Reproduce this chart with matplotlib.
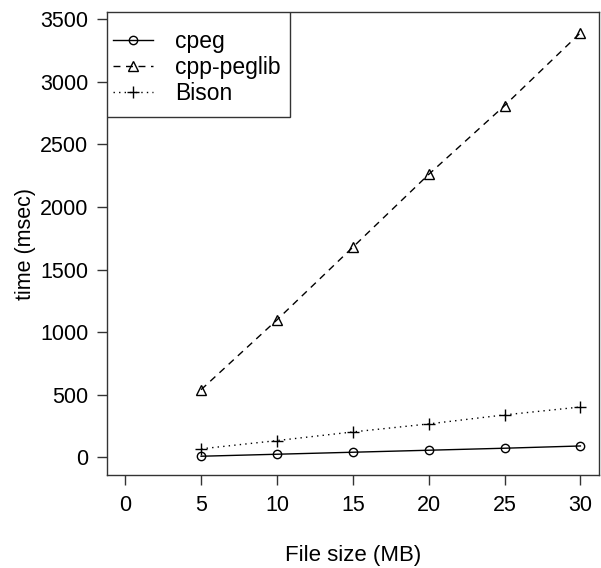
import matplotlib
matplotlib.use("Agg")
import matplotlib.pyplot as plt
from matplotlib.patches import Rectangle

# File sizes (MB) and parse times (msec)
file_size = [5, 10, 15, 20, 25, 30]
cpeg = [10, 26, 42, 58, 74, 92]
cpp_peglib = [541, 1098, 1678, 2259, 2808, 3389]
bison = [69, 135, 204, 268, 340, 403]

x_ticks = [0, 5, 10, 15, 20, 25, 30]
y_ticks = [0, 500, 1000, 1500, 2000, 2500, 3000, 3500]

plt.rcParams["font.family"] = ["Liberation Sans", "DejaVu Sans"]
plt.rcParams["font.size"] = 15.5

fig = plt.figure(figsize=(6.01, 5.68), dpi=100)
ax = fig.add_axes([0.178, 0.163, 0.818, 0.816])

ax.plot(file_size, cpeg, color="black", linestyle="-", linewidth=1,
        marker="o", markersize=6, markerfacecolor="none", markeredgewidth=1,
        label="cpeg")
ax.plot(file_size, cpp_peglib, color="black", linestyle=(0, (5, 4)), linewidth=1,
        marker="^", markersize=7, markerfacecolor="none", markeredgewidth=1,
        label="cpp-peglib")
ax.plot(file_size, bison, color="black", linestyle=(0, (1, 3)), linewidth=1,
        marker="+", markersize=9, markeredgewidth=1,
        label="Bison")

ax.set_xlim(-1.2, 31.2)
ax.set_ylim(-143, 3556)
ax.set_xticks(x_ticks)
ax.set_yticks(y_ticks)
ax.tick_params(direction="out", length=7, width=1, color="#333333")
ax.tick_params(axis="x", pad=7)
ax.tick_params(axis="y", pad=6.5)
for side in ax.spines.values():
    side.set_color("#333333")
    side.set_linewidth(1)

ax.set_xlabel("File size (MB)", labelpad=21, fontsize=16)
ax.set_ylabel("time (msec)", labelpad=3)

# R-style legend: frame drawn separately so the padding matches
ax.add_patch(Rectangle((0.0, 0.773), 0.372, 0.227, transform=ax.transAxes,
                       facecolor="white", edgecolor="#333333", linewidth=1,
                       zorder=4))
leg = ax.legend(loc="upper left", bbox_to_anchor=(0.012, 0.962), frameon=False,
                borderpad=0.0, labelspacing=0.15, handlelength=1.75,
                handletextpad=0.98, borderaxespad=0.0, fontsize=16.5)
leg.set_zorder(5)

fig.savefig("out.png", dpi=100)
